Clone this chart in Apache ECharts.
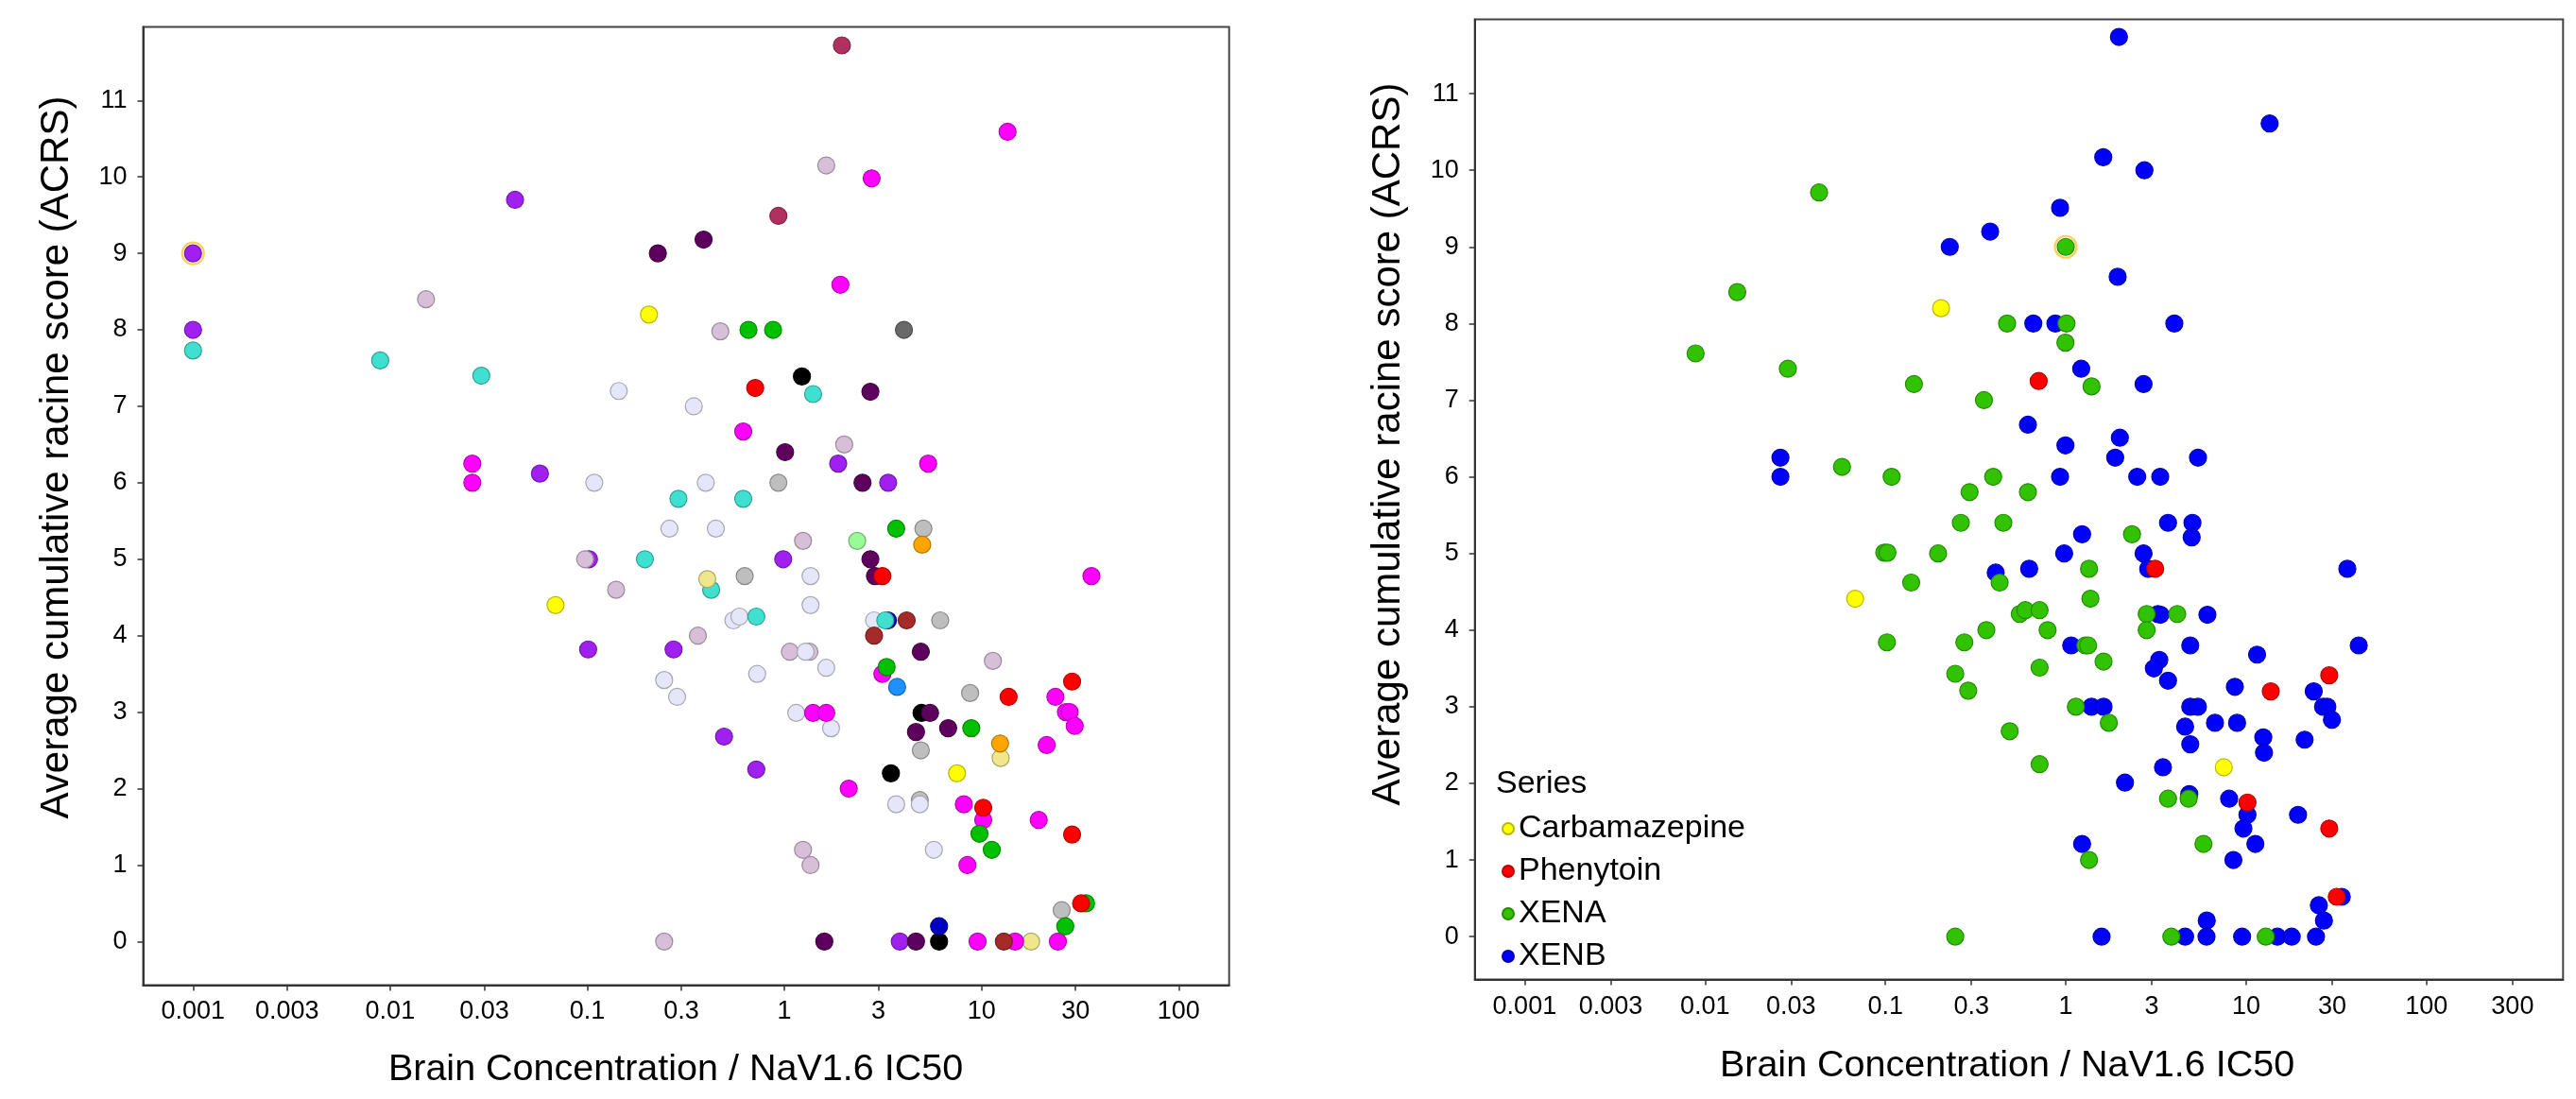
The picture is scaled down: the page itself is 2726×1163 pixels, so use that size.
<!DOCTYPE html>
<html>
<head>
<meta charset="utf-8">
<title>ACRS vs brain concentration / NaV1.6 IC50</title>
<script src="https://cdn.jsdelivr.net/npm/echarts@6/dist/echarts.min.js"></script>
<style>
  html, body { margin: 0; padding: 0; background: #fff; }
  #chart { width: 2726px; height: 1163px; }
</style>
</head>
<body>
<div id="chart"></div>
<script>
// tick labels
var leftTicks = [0.001, 0.003, 0.01, 0.03, 0.1, 0.3, 1, 3, 10, 30, 100];
var rightTicks = [0.001, 0.003, 0.01, 0.03, 0.1, 0.3, 1, 3, 10, 30, 100, 300];
var yTicks = [0, 1, 2, 3, 4, 5, 6, 7, 8, 9, 10, 11];

// left panel, one array per colour group: [brain conc / IC50, ACRS]
var leftGray = [[0.932, 6.0], [5.07, 5.4], [0.629, 4.78], [6.17, 4.2], [8.75, 3.25], [4.92, 2.5], [4.86, 1.85], [25.5, 0.41]];
var leftDimGray = [[4.04, 8.0]];
var leftPurple = [[0.001, 9.0], [0.043, 9.7], [0.001, 8.0], [0.0575, 6.12], [0.102, 5.0], [0.101, 3.82], [0.274, 3.82],
  [0.986, 5.0], [1.874, 6.25], [3.36, 6.0], [0.494, 2.68], [0.72, 2.25], [3.85, 0]];
var leftBlack = [[1.227, 7.39], [4.96, 2.99], [3.47, 2.2], [6.09, 0]];
var leftDarkPurple = [[0.228, 9.0], [0.389, 9.18], [2.73, 7.19], [1.008, 6.4], [2.49, 6.0], [2.73, 5.0], [2.88, 4.78],
  [4.92, 3.79], [5.48, 2.99], [4.65, 2.74], [6.77, 2.79], [1.594, 0], [4.65, 0]];
var leftNavy = [[3.35, 4.2], [6.09, 0.2]];
var leftThistle = [[0.0152, 8.4], [0.0975, 5.0], [0.14, 4.6], [0.2455, 0], [1.63, 10.15], [0.473, 7.98], [2.01, 6.5],
  [1.243, 5.24], [0.364, 4.0], [1.066, 3.79], [1.339, 3.79], [11.42, 3.67], [1.243, 1.2], [1.357, 1.0]];
var leftLavender = [[0.1445, 7.2], [0.347, 7.0], [0.1085, 6.0], [0.261, 5.4], [0.2455, 3.42], [0.2855, 3.2], [0.399, 6.0],
  [0.449, 5.4], [1.357, 4.78], [1.357, 4.4], [0.551, 4.2], [0.591, 4.25], [2.85, 4.2], [1.281, 3.79], [1.63, 3.58],
  [0.7275, 3.5], [1.148, 2.99], [1.724, 2.79], [3.69, 1.795], [4.86, 1.795], [5.73, 1.2]];
var leftTurquoise = [[0.001, 7.73], [0.0089, 7.6], [0.029, 7.4], [0.29, 5.79], [0.196, 5.0], [1.398, 7.16], [0.618, 5.79],
  [0.425, 4.6], [0.72, 4.25], [3.25, 4.2]];
var leftKhaki = [[0.406, 4.74], [12.5, 2.4], [17.84, 0]];
var leftOrange = [[5.0, 5.19], [12.42, 2.59]];
var leftMagenta = [[0.0261, 6.25], [0.0261, 6.0], [13.55, 10.59], [2.77, 9.98], [1.923, 8.59], [0.618, 6.67], [5.36, 6.25],
  [36.1, 4.78], [3.14, 3.5], [23.7, 3.2], [26.8, 3.0], [28.0, 3.0], [29.7, 2.82], [21.4, 2.57], [1.398, 2.99], [1.63, 2.99],
  [2.12, 2.0], [8.13, 1.795], [10.2, 1.59], [19.5, 1.59], [8.48, 1.0], [9.55, 0], [14.8, 0], [24.4, 0]];
var leftGreen = [[0.657, 8.0], [0.876, 8.0], [3.69, 5.4], [3.3, 3.59], [8.87, 2.79], [9.76, 1.41], [11.27, 1.2], [33.9, 0.5], [26.6, 0.2]];
var leftPaleGreen = [[2.34, 5.24]];
var leftDodgerBlue = [[3.73, 3.33]];
var leftMaroon = [[1.957, 11.72], [0.932, 9.49]];
var leftBrown = [[4.17, 4.2], [2.85, 4.0], [12.98, 0]];
var leftRed = [[0.711, 7.24], [3.14, 4.78], [13.72, 3.2], [28.8, 3.4], [10.2, 1.75], [28.8, 1.4], [32.0, 0.5]];
var leftYellow = [[0.2056, 8.2], [0.069, 4.4], [7.51, 2.2]];
var leftHighlight = [[0.001, 9.0]];

// right panel, by series
var carbamazepine = [[0.2035, 8.2], [0.068, 4.41], [7.52, 2.21]];
var phenytoin = [[0.708, 7.25], [3.13, 4.8], [13.7, 3.2], [28.9, 3.41], [10.17, 1.75], [28.9, 1.41], [31.8, 0.52]];
var xena = [[0.0429, 9.71], [0.0151, 8.41], [0.00887, 7.61], [0.0288, 7.41], [1.0, 9.0], [0.473, 8.0], [1.009, 8.0],
  [0.996, 7.75], [1.39, 7.18], [0.144, 7.21], [0.352, 7.0], [0.0575, 6.13], [0.1083, 6.0], [0.396, 6.0], [0.293, 5.8],
  [0.617, 5.8], [0.262, 5.4], [0.451, 5.4], [2.33, 5.25], [0.0986, 5.01], [0.1027, 5.01], [0.196, 5.0], [1.346, 4.8],
  [0.43, 4.62], [0.139, 4.62], [1.37, 4.41], [0.556, 4.21], [0.597, 4.26], [0.716, 4.26], [2.81, 4.21], [4.15, 4.21],
  [2.81, 4.0], [0.363, 4.0], [0.793, 4.0], [0.102, 3.84], [0.274, 3.84], [1.284, 3.8], [1.33, 3.8], [1.62, 3.59],
  [0.716, 3.51], [0.244, 3.43], [0.288, 3.21], [1.138, 3.0], [1.733, 2.79], [0.489, 2.68], [0.716, 2.25], [4.8, 1.8],
  [3.69, 1.8], [5.8, 1.21], [1.346, 1.0], [0.244, 0], [3.85, 0], [12.85, 0]];
var xenb = [[1.972, 11.74], [1.614, 10.17], [2.73, 10.0], [13.5, 10.61], [0.93, 9.51], [0.381, 9.2], [0.2275, 9.0],
  [1.94, 8.61], [0.661, 8.0], [0.876, 8.0], [4.0, 8.0], [1.218, 7.41], [2.7, 7.21], [0.617, 6.68], [0.996, 6.41],
  [1.995, 6.51], [1.88, 6.25], [5.41, 6.25], [0.0262, 6.25], [0.0262, 6.0], [0.93, 6.0], [2.49, 6.0], [3.34, 6.0],
  [1.232, 5.25], [3.69, 5.4], [5.04, 5.4], [4.99, 5.21], [0.98, 5.0], [2.7, 5.0], [2.865, 4.8], [0.409, 4.75],
  [0.627, 4.8], [36.4, 4.8], [6.1, 4.2], [3.24, 4.21], [3.35, 4.2], [1.072, 3.8], [4.9, 3.8], [42.1, 3.8], [11.5, 3.68],
  [3.3, 3.61], [3.08, 3.5], [3.69, 3.34], [8.66, 3.26], [23.7, 3.2], [26.7, 3.0], [28.2, 3.0], [29.9, 2.83], [1.39, 3.0],
  [1.62, 3.0], [4.9, 3.0], [5.4, 3.0], [4.59, 2.74], [6.72, 2.79], [8.91, 2.79], [4.9, 2.51], [12.45, 2.6], [12.56, 2.4],
  [21.1, 2.57], [3.46, 2.21], [2.13, 2.01], [4.84, 1.86], [8.05, 1.8], [10.17, 1.59], [9.66, 1.41], [19.4, 1.59],
  [11.25, 1.21], [1.232, 1.21], [8.5, 1.0], [33.9, 0.52], [25.3, 0.41], [27.0, 0.21], [6.05, 0.21], [1.58, 0], [4.59, 0],
  [6.03, 0], [9.5, 0], [14.9, 0], [17.9, 0], [24.4, 0]];
var rightHighlight = [[1.0, 9.0]];

var FONT = "'Liberation Sans', Arial, sans-serif";
var AXIS_COLOR = '#333';

// draw order of the left groups, bottom first
var leftGroups = [
  ['gray', leftGray, '#BEBEBE'],
  ['dimgray', leftDimGray, '#696969'],
  ['purple', leftPurple, '#A020F0'],
  ['black', leftBlack, '#000000'],
  ['darkpurple', leftDarkPurple, '#5E005E'],
  ['navy', leftNavy, '#0000C0'],
  ['thistle', leftThistle, '#D8BFD8'],
  ['lavender', leftLavender, '#E6E6FA'],
  ['turquoise', leftTurquoise, '#40E0D0'],
  ['khaki', leftKhaki, '#F0E68C'],
  ['orange', leftOrange, '#FFA500'],
  ['magenta', leftMagenta, '#FF00FF'],
  ['green', leftGreen, '#00C000'],
  ['palegreen', leftPaleGreen, '#98FB98'],
  ['dodgerblue', leftDodgerBlue, '#1E90FF'],
  ['maroon', leftMaroon, '#B03060'],
  ['brown', leftBrown, '#A52A2A'],
  ['red', leftRed, '#FF0000'],
  ['yellow', leftYellow, '#FFFF00']
];

function shade(hex, f) {
  var n = parseInt(hex.slice(1), 16);
  var r = Math.round(((n >> 16) & 255) * f);
  var g = Math.round(((n >> 8) & 255) * f);
  var b = Math.round((n & 255) * f);
  return 'rgb(' + r + ',' + g + ',' + b + ')';
}

// x is drawn on a log10 value axis
function toLog(pts) {
  return pts.map(function (p) { return [Math.log10(p[0]), p[1]]; });
}

function dots(name, pts, color, idx) {
  return {
    name: name, type: 'scatter', xAxisIndex: idx, yAxisIndex: idx,
    data: toLog(pts), symbol: 'circle', symbolSize: 18, silent: true,
    itemStyle: { color: color, borderColor: shade(color, 0.72), borderWidth: 1.2, opacity: 1 }
  };
}

function ring(pts, idx) {
  return {
    name: 'highlight' + idx, type: 'scatter', xAxisIndex: idx, yAxisIndex: idx,
    data: toLog(pts), symbol: 'circle', symbolSize: 23, silent: true,
    itemStyle: { color: 'rgba(0,0,0,0)', borderColor: '#FFC42E', borderWidth: 2.2 }
  };
}

function xAxisFor(idx, ticks, min, max) {
  var vals = ticks.map(function (t) { return Math.log10(t); });
  return {
    type: 'value', gridIndex: idx, min: min, max: max,
    splitLine: { show: false },
    axisLine: { show: true, onZero: false, lineStyle: { color: AXIS_COLOR, width: 2 } },
    axisTick: { show: true, customValues: vals, length: 6, lineStyle: { color: AXIS_COLOR, width: 1.5 } },
    axisLabel: {
      customValues: vals, margin: 15, fontSize: 27, color: '#000', fontFamily: FONT, hideOverlap: false,
      formatter: function (v) { return String(+Math.pow(10, v).toPrecision(3)); }
    }
  };
}

function yAxisFor(idx, min, max) {
  return {
    type: 'value', gridIndex: idx, min: min, max: max,
    splitLine: { show: false },
    axisLine: { show: true, onZero: false, lineStyle: { color: AXIS_COLOR, width: 2 } },
    axisTick: { show: true, customValues: yTicks, length: 6, lineStyle: { color: AXIS_COLOR, width: 1.5 } },
    axisLabel: { customValues: yTicks, margin: 17, fontSize: 27, color: '#000', fontFamily: FONT, hideOverlap: false }
  };
}

var series = leftGroups.map(function (g) { return dots(g[0], g[1], g[2], 0); });
series.push(ring(leftHighlight, 0));
series.push(dots('XENB', xenb, '#0000FF', 1));
series.push(dots('XENA', xena, '#31C300', 1));
series.push(dots('Phenytoin', phenytoin, '#FF0000', 1));
series.push(dots('Carbamazepine', carbamazepine, '#FFFF00', 1));
series.push(ring(rightHighlight, 1));

function label(text, x, y, size, rot, align) {
  return {
    type: 'text', x: x, y: y, rotation: rot || 0, silent: true,
    style: { text: text, fontSize: size, fontFamily: FONT, fill: '#000', align: align || 'center', verticalAlign: 'middle' }
  };
}

var chart = echarts.init(document.getElementById('chart'), null, { renderer: 'canvas' });
chart.setOption({
  backgroundColor: '#fff',
  animation: false,
  grid: [
    { left: 151.5, right: 1425.3, top: 28.6, bottom: 120.5, show: true, borderColor: '#444', borderWidth: 2,
      containLabel: false, outerBoundsMode: 'none' },
    { left: 1560.7, right: 13.7, top: 20.4, bottom: 126.4, show: true, borderColor: '#444', borderWidth: 2,
      containLabel: false, outerBoundsMode: 'none' }
  ],
  xAxis: [xAxisFor(0, leftTicks, -3.253, 2.256), xAxisFor(1, rightTicks, -3.276, 2.757)],
  yAxis: [yAxisFor(0, -0.57, 11.96), yAxisFor(1, -0.56, 11.97)],
  legend: {
    data: ['Carbamazepine', 'Phenytoin', 'XENA', 'XENB'],
    orient: 'vertical', left: 1589, top: 859, padding: 0,
    itemWidth: 12, itemHeight: 12, itemGap: 9, icon: 'circle', selectedMode: false,
    textStyle: { fontSize: 34, lineHeight: 36, color: '#000', fontFamily: FONT }
  },
  graphic: [
    label('Average cumulative racine score (ACRS)', 60, 484, 42, Math.PI / 2),
    label('Average cumulative racine score (ACRS)', 1469, 470, 42, Math.PI / 2),
    label('Brain Concentration / NaV1.6 IC50', 715, 1132, 39.5),
    label('Brain Concentration / NaV1.6 IC50', 2124, 1128, 39.5),
    label('Series', 1583, 830, 34, 0, 'left')
  ],
  series: series
});
</script>
</body>
</html>
